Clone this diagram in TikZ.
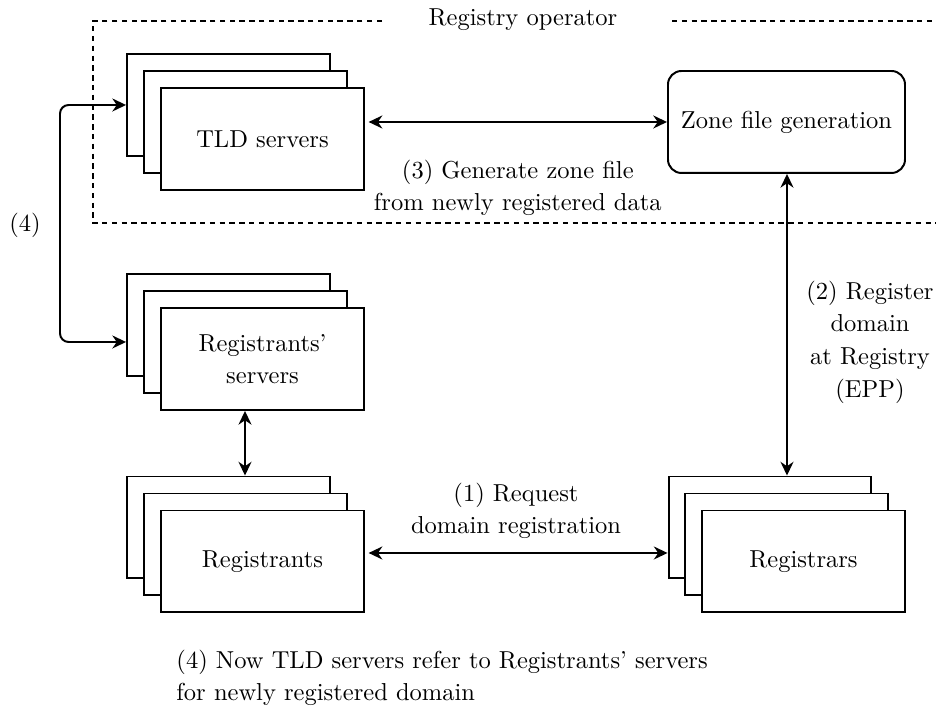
\documentclass[tikz,border=0pt]{standalone}
\usetikzlibrary{arrows.meta}
\begin{document}
\begin{tikzpicture}[
  x=0.408pt, y=-0.408pt,
  font=\fontsize{10}{13.3}\selectfont,
  card/.style={draw, thick, fill=white, minimum width=82.8pt, minimum height=41.6pt, inner sep=0pt},
  zonebox/.style={draw, thick, fill=white, rounded corners=5.5pt, minimum width=96.7pt, minimum height=41.6pt},
  link/.style={thick, {Stealth[length=5.6pt,width=5.3pt]}-{Stealth[length=5.6pt,width=5.3pt]}},
  frame/.style={line width=0.6pt, dash pattern=on 2.2pt off 1.8pt},
  lbl/.style={align=center, inner sep=0pt}
]
\useasboundingbox (0,0) rectangle (936,709);

% Registry operator frame (open on the right)
\draw[frame] (382,21) -- (93,21) -- (93,223) -- (936,223);
\draw[frame] (672,21) -- (936,21);
\node[lbl] (opname) at (523,20) {Registry operator};

% TLD servers stack
\node[card] (tldB) at (228.5,105) {};
\node[card] (tldM) at (245.5,122) {};
\node[card] (tldF) at (262.5,139) {TLD servers};

% Zone file generation
\node[zonebox] (zone) at (786.5,122) {Zone file generation};

% Registrants' servers stack
\node[card] (rsB) at (228.5,325) {};
\node[card] (rsM) at (245.5,342) {};
\node[card, align=center] (rsF) at (262.5,359) {Registrants'\\servers};

% Registrants stack
\node[card] (rgB) at (228.5,527.5) {};
\node[card] (rgM) at (245.5,544.5) {};
\node[card] (rgF) at (262.5,561.5) {Registrants};

% Registrars stack
\node[card] (raB) at (770,527.5) {};
\node[card] (raM) at (786.5,544.5) {};
\node[card] (raF) at (803.5,561.5) {Registrars};

% Connectors
\draw[link] ([xshift=1.5pt]tldF.east |- zone.west) -- (zone.west)
  node[lbl, midway, below=15pt] (l3) {(3) Generate zone file\\from newly registered data};
\draw[link] ([xshift=0.204pt]zone.south) -- ([xshift=0.204pt]zone.south |- raB.north);
\node[lbl] (l2) at (870,342) {(2) Register\\domain\\at Registry\\(EPP)};
\coordinate (y1) at (0,553);
\draw[link] ([xshift=1.5pt]rgF.east |- y1) -- (raB.west |- y1);
\node[lbl] (l1) at (516,511) {(1) Request\\domain registration};
\draw[link] ([xshift=-0.204pt]rsM.center |- rsF.south) -- ([xshift=-0.204pt]rgM.center |- rgB.north);
\coordinate (bendT) at (60,105);
\draw[link, rounded corners=3.5pt] (tldB.west) -- (bendT) -- (bendT |- rsM.center) -- (rsB.west |- rsM.center);
\node[lbl] (l4) at (25,225) {(4)};

% Footnote text
\node[lbl, align=left, anchor=west] (note) at (176,678) {(4) Now TLD servers refer to Registrants' servers\\for newly registered domain};
\end{tikzpicture}
\end{document}
